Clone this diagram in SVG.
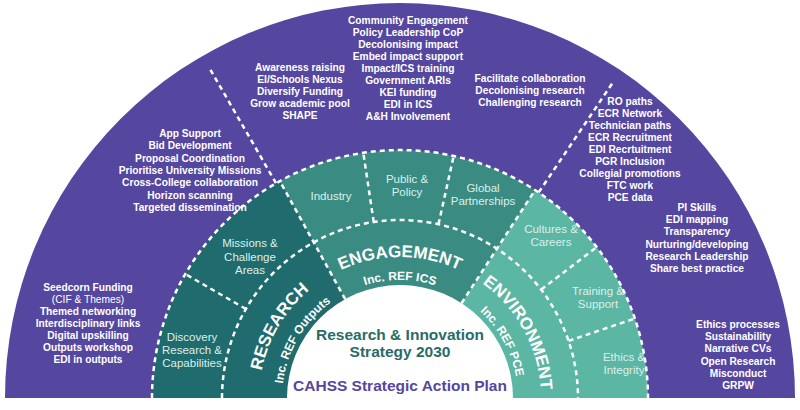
<svg xmlns="http://www.w3.org/2000/svg" width="800" height="410" viewBox="0 0 800 410">
<style>
.p{font-family:"Liberation Sans",Arial,sans-serif;font-weight:bold;font-size:10.2px;fill:#fff;text-anchor:middle}
.s{font-family:"Liberation Sans",Arial,sans-serif;font-size:11.5px;fill:#dcefeb;text-anchor:middle}
.big{font-family:"Liberation Sans",Arial,sans-serif;font-weight:bold;font-size:17px;fill:#fff}
.sm{font-family:"Liberation Sans",Arial,sans-serif;font-weight:bold;font-size:12px;fill:#fff}
.d{fill:none;stroke:#fff;stroke-width:2.5;stroke-dasharray:5 4}
.c{font-family:"Liberation Sans",Arial,sans-serif;font-weight:bold;font-size:15.5px;text-anchor:middle}
</style>
<defs>
<path id="a1" d="M259,398 A141 141 0 0 1 541,398"/>
<path id="a2" d="M282,398 A118 118 0 0 1 518,398"/>
</defs>
<rect width="800" height="410" fill="#fff"/>
<path d="M5,398 A395 395 0 0 1 795,398 Z" fill="#5546a0"/>
<g id="research"><path d="M400,398 L152,398 A248 248 0 0 1 279.8,181.1 Z" fill="#1f6b6d"/></g>
<g id="engagement"><path d="M400,398 L279.8,181.1 A248 248 0 0 1 535.1,190 Z" fill="#3a8c82"/></g>
<g id="environment"><path d="M400,398 L535.1,190 A248 248 0 0 1 648,398 Z" fill="#5bb6a4"/></g>
<circle cx="400" cy="398" r="113" fill="#fff"/>
<rect x="0" y="398" width="800" height="12" fill="#fff"/>
<g id="connectors">
<path class="d" d="M152,398 A248 248 0 0 1 648,398"/>
<path class="d" d="M222,398 A178 178 0 0 1 578,398"/>
<path class="d" d="M345.2,299.2 L279.8,181.1 M461.5,303.2 L535.1,190"/>
<path class="d" d="M245.9,309 L185.2,274 M373.7,222 L363.3,152.7 M438.5,224.2 L453.7,155.9 M541.2,289.6 L596.8,247 M568.6,340.9 L634.9,318.5"/>
<path class="d" d="M276,183.2 L210,69 M538.7,192.4 L612.5,83"/>
</g>
<g id="ring-labels">
<text class="big"><textPath href="#a1" startOffset="17%" text-anchor="middle">RESEARCH</textPath></text>
<text class="sm"><textPath href="#a2" startOffset="17%" text-anchor="middle">Inc. REF Outputs</textPath></text>
<text class="big"><textPath href="#a1" startOffset="50%" text-anchor="middle">ENGAGEMENT</textPath></text>
<text class="sm"><textPath href="#a2" startOffset="50%" text-anchor="middle">Inc. REF ICS</textPath></text>
<text class="big"><textPath href="#a1" startOffset="84%" text-anchor="middle">ENVIRONMENT</textPath></text>
<text class="sm"><textPath href="#a2" startOffset="84%" text-anchor="middle">Inc. REF PCE</textPath></text>
</g>
<g id="sub-labels">
<text class="s" x="192" y="341">Discovery<tspan x="192" y="354">Research &amp;</tspan><tspan x="192" y="367">Capabilities</tspan></text>
<text class="s" x="250" y="247">Missions &amp;<tspan x="250" y="261">Challenge</tspan><tspan x="250" y="274">Areas</tspan></text>
<text class="s" x="331" y="200">Industry</text>
<text class="s" x="407" y="183">Public &amp;<tspan x="407" y="196">Policy</tspan></text>
<text class="s" x="483" y="192">Global<tspan x="483" y="205">Partnerships</tspan></text>
<text class="s" x="551" y="233">Cultures &amp;<tspan x="551" y="246">Careers</tspan></text>
<text class="s" x="598" y="295">Training &amp;<tspan x="598" y="308">Support</tspan></text>
<text class="s" x="624" y="361">Ethics &amp;<tspan x="624" y="374">Integrity</tspan></text>
</g>
<g id="center">
<text class="c" x="400" y="340" fill="#2a6b68">Research &amp; Innovation</text>
<text class="c" x="400" y="357" fill="#2a6b68">Strategy 2030</text>
<text class="c" x="400" y="391" fill="#5546a0">CAHSS Strategic Action Plan</text>
</g>
<g id="actions">
<text class="p" x="190" y="137">App Support<tspan x="190" dy="12.3">Bid Development</tspan><tspan x="190" dy="12.3">Proposal Coordination</tspan><tspan x="190" dy="12.3">Prioritise University Missions</tspan><tspan x="190" dy="12.3">Cross-College collaboration</tspan><tspan x="190" dy="12.3">Horizon scanning</tspan><tspan x="190" dy="12.3">Targeted dissemination</tspan></text>
<text class="p" x="300" y="71">Awareness raising<tspan x="300" dy="12">EI/Schools Nexus</tspan><tspan x="300" dy="12">Diversify Funding</tspan><tspan x="300" dy="12">Grow academic pool</tspan><tspan x="300" dy="12">SHAPE</tspan></text>
<text class="p" x="408" y="24">Community Engagement<tspan x="408" dy="12">Policy Leadership CoP</tspan><tspan x="408" dy="12">Decolonising impact</tspan><tspan x="408" dy="12">Embed impact support</tspan><tspan x="408" dy="12">Impact/ICS training</tspan><tspan x="408" dy="12">Government ARIs</tspan><tspan x="408" dy="12">KEI funding</tspan><tspan x="408" dy="12">EDI in ICS</tspan><tspan x="408" dy="12">A&amp;H Involvement</tspan></text>
<text class="p" x="530" y="82">Facilitate collaboration<tspan x="530" dy="12">Decolonising research</tspan><tspan x="530" dy="12">Challenging research</tspan></text>
<text class="p" x="630" y="105">RO paths<tspan x="630" dy="12">ECR Network</tspan><tspan x="630" dy="12">Technician paths</tspan><tspan x="630" dy="12">ECR Recruitment</tspan><tspan x="630" dy="12">EDI Recrtuitment</tspan><tspan x="630" dy="12">PGR Inclusion</tspan><tspan x="630" dy="12">Collegial promotions</tspan><tspan x="630" dy="12">FTC work</tspan><tspan x="630" dy="12">PCE data</tspan></text>
<text class="p" x="697" y="211">PI Skills<tspan x="697" dy="12.2">EDI mapping</tspan><tspan x="697" dy="12.2">Transparency</tspan><tspan x="697" dy="12.2">Nurturing/developing</tspan><tspan x="697" dy="12.2">Research Leadership</tspan><tspan x="697" dy="12.2">Share best practice</tspan></text>
<text class="p" x="738" y="328">Ethics processes<tspan x="738" dy="12.2">Sustainability</tspan><tspan x="738" dy="12.2">Narrative CVs</tspan><tspan x="738" dy="12.2">Open Research</tspan><tspan x="738" dy="12.2">Misconduct</tspan><tspan x="738" dy="12.2">GRPW</tspan></text>
<text class="p" x="88" y="291">Seedcorn Funding<tspan x="88" dy="12" font-weight="normal">(CIF &amp; Themes)</tspan><tspan x="88" dy="12">Themed networking</tspan><tspan x="88" dy="12">Interdisciplinary links</tspan><tspan x="88" dy="12">Digital upskilling</tspan><tspan x="88" dy="12">Outputs workshop</tspan><tspan x="88" dy="12">EDI in outputs</tspan></text>
</g>
</svg>
